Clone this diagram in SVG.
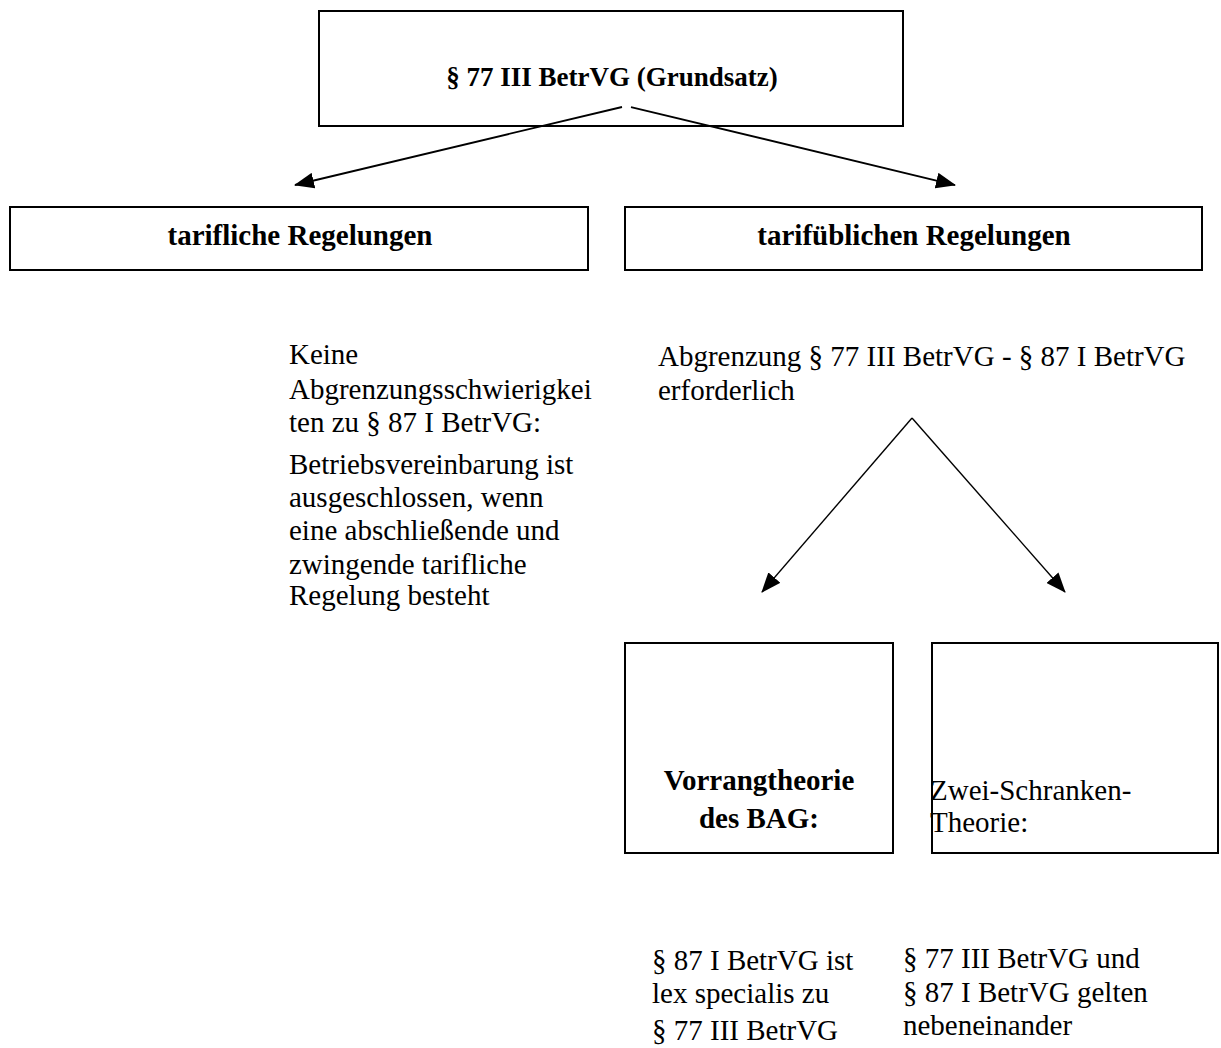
<svg xmlns="http://www.w3.org/2000/svg" width="1221" height="1048" viewBox="0 0 1221 1048">
<style>
  .box { fill: #ffffff; stroke: #000000; stroke-width: 2; }
  .t { font-family: "Liberation Serif", "Times New Roman", serif; font-size: 29px; fill: #000000; }
  .b { font-weight: bold; }
  .c { text-anchor: middle; }
  .edge { stroke: #000000; stroke-width: 1.8; fill: none; marker-end: url(#arrow); }
</style>
<defs>
  <marker id="arrow" markerUnits="userSpaceOnUse" markerWidth="20" markerHeight="16" refX="19" refY="8" orient="auto">
    <path d="M0,0 L20,8 L0,16 Z" fill="#000000"/>
  </marker>
</defs>
<rect width="1221" height="1048" fill="#ffffff"/>
<g id="n_grundsatz">
  <rect class="box" x="319" y="11" width="584" height="115"/>
  <text class="t b c" x="612" y="86" style="font-size:27px">§ 77 III BetrVG (Grundsatz)</text>
</g>
<g id="n_tariflich">
  <rect class="box" x="10" y="207" width="578" height="63"/>
  <text class="t b c" x="300" y="245">tarifliche Regelungen</text>
</g>
<g id="n_tarifueblich">
  <rect class="box" x="625" y="207" width="577" height="63"/>
  <text class="t b c" x="914" y="245">tarifüblichen Regelungen</text>
</g>
<g id="n_keine">
  <text class="t" x="289" y="364">Keine</text>
  <text class="t" x="289" y="399">Abgrenzungsschwierigkei</text>
  <text class="t" x="289" y="432">ten zu § 87 I BetrVG:</text>
  <text class="t" x="289" y="474">Betriebsvereinbarung ist</text>
  <text class="t" x="289" y="507">ausgeschlossen, wenn</text>
  <text class="t" x="289" y="540">eine abschließende und</text>
  <text class="t" x="289" y="574">zwingende tarifliche</text>
  <text class="t" x="289" y="605">Regelung besteht</text>
</g>
<g id="n_abgrenzung">
  <text class="t" x="658" y="366">Abgrenzung § 77 III BetrVG - § 87 I BetrVG</text>
  <text class="t" x="658" y="400">erforderlich</text>
</g>
<g id="n_vorrang">
  <rect class="box" x="625" y="643" width="268" height="210"/>
  <text class="t b c" x="759" y="790">Vorrangtheorie</text>
  <text class="t b c" x="759" y="828">des BAG:</text>
</g>
<g id="n_zwei">
  <rect class="box" x="932" y="643" width="286" height="210"/>
  <text class="t" x="930" y="800">Zwei-Schranken-</text>
  <text class="t" x="930" y="832">Theorie:</text>
</g>
<g id="n_lex">
  <text class="t" x="652" y="970">§ 87 I BetrVG ist</text>
  <text class="t" x="652" y="1003">lex specialis zu</text>
  <text class="t" x="652" y="1040">§ 77 III BetrVG</text>
</g>
<g id="n_neben">
  <text class="t" x="903" y="968">§ 77 III BetrVG und</text>
  <text class="t" x="903" y="1002">§ 87 I BetrVG gelten</text>
  <text class="t" x="903" y="1035">nebeneinander</text>
</g>
<g id="edges">
  <line class="edge" x1="622" y1="107" x2="295" y2="185"/>
  <line class="edge" x1="631" y1="107" x2="955" y2="185"/>
  <line class="edge" x1="912" y1="418" x2="762" y2="592" style="stroke-width:1.4"/>
  <line class="edge" x1="912" y1="418" x2="1065" y2="592" style="stroke-width:1.4"/>
</g>
</svg>
